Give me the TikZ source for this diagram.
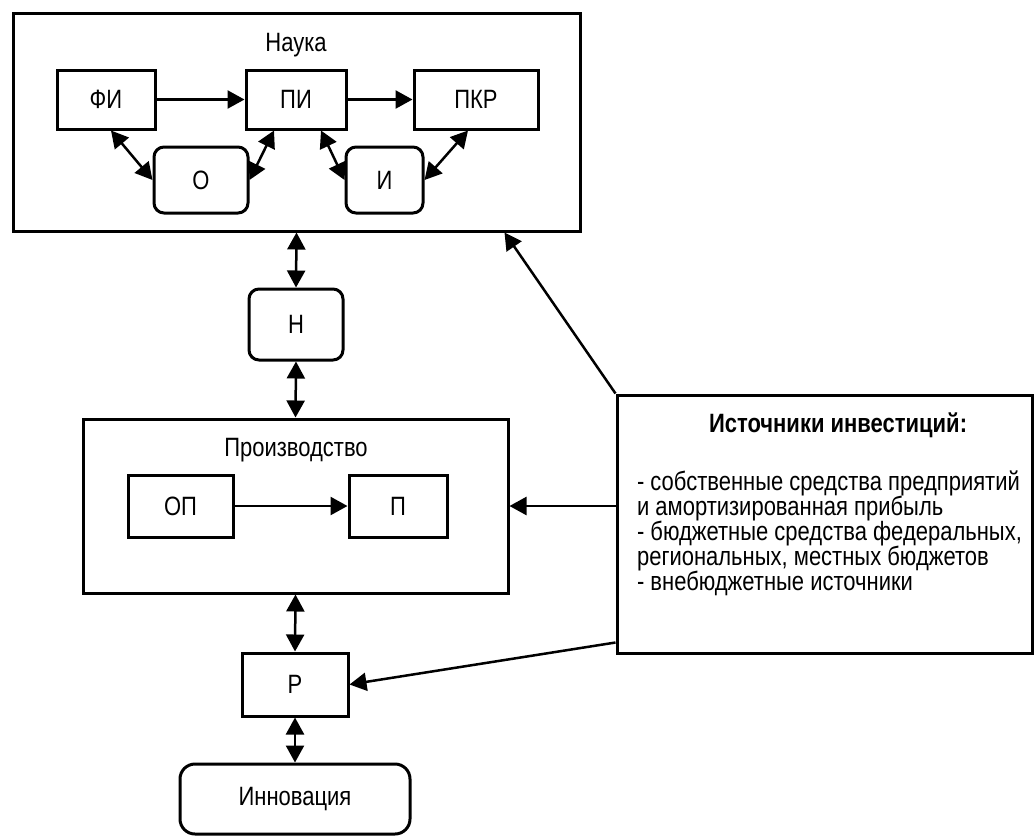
\documentclass[tikz,border=0pt]{standalone}
\usepackage{fontspec}
\setmainfont{Liberation Sans}[FakeStretch=0.83]
\usetikzlibrary{arrows.meta}

\begin{document}
\begin{tikzpicture}[x=1pt,y=-1pt,>={Triangle[length=17pt,width=18pt]},
  blok/.style={draw, line width=3pt, inner sep=0pt},
  oval/.style={blok, rounded corners=10pt},
  strelka/.style={line width=2.5pt, ->},
  dvoj/.style={line width=2.5pt, <->},
  font=\fontsize{26.5}{25}\selectfont]
\useasboundingbox (0,0) rectangle (1035,836);

% Science block
\node[blok, minimum width=567pt, minimum height=218pt] (nauka) at (296.5,122) {};
\node (naukatxt) at (296,45) {Наука};
\node[blok, minimum width=98pt, minimum height=59pt] (fi) at (106,99.5) {ФИ};
\node[blok, minimum width=100pt, minimum height=59pt] (pi) at (296,99.5) {ПИ};
\node[blok, minimum width=124pt, minimum height=59pt] (pkr) at (476,99.5) {ПКР};
\node[oval, minimum width=94pt, minimum height=66pt] (o) at (201,180) {О};
\node[oval, minimum width=77pt, minimum height=66pt] (i) at (384.5,180) {И};

% Arrows inside science block
\draw[strelka] (fi.east) -- (pi.west);
\draw[strelka] (pi.east) -- (pkr.west);
\draw[dvoj] ([xshift=5pt]fi.south) -- (o.west);
\draw[dvoj] (o.east) -- ([xshift=-22pt]pi.south);
\draw[dvoj] ([xshift=25pt]pi.south) -- (i.west);
\draw[dvoj] (i.east) -- ([xshift=-8pt]pkr.south);

% Node N
\node[oval, minimum width=94pt, minimum height=71pt] (n) at (296,324.5) {Н};
\draw[dvoj] (nauka.south) -- (n.north);

% Production block
\node[blok, minimum width=425pt, minimum height=174pt] (proizv) at (295.5,506) {};
\node (proizvtxt) at (296,450) {Производство};
\node[blok, minimum width=105pt, minimum height=62pt] (op) at (180.5,506) {ОП};
\node[blok, minimum width=98pt, minimum height=62pt] (p) at (398,506) {П};
\draw[strelka] (op.east) -- (p.west);
\draw[dvoj] (n.south) -- (proizv.north);

% Node R and innovation
\node[blok, minimum width=106pt, minimum height=63pt] (r) at (295,684.5) {Р};
\node[blok, rounded corners=15pt, minimum width=230pt, minimum height=70pt] (innov) at (295,799) {Инновация};
\draw[dvoj] (proizv.south) -- (r.north);
\draw[dvoj] (r.south) -- (innov.north);

% Investment sources
\node[blok, minimum width=415pt, minimum height=258pt] (src) at (824.5,524) {};
\node[font=\fontsize{26.5}{25}\selectfont\bfseries] (srctitle) at (838,425) {Источники инвестиций:};
\node[anchor=west, align=left] (srctxt) at (633.5,533) {- собственные средства предприятий\\и амортизированная прибыль\\- бюджетные средства федеральных,\\региональных, местных бюджетов\\- внебюджетные источники};

% Arrows from sources
\draw[strelka] (src.north west) -- ([xshift=-77pt]nauka.south east);
\draw[strelka] (proizv.east -| src.west) -- (proizv.east);
\draw[strelka] ([yshift=12pt]src.south west) -- (r.east);

\end{tikzpicture}
\end{document}
